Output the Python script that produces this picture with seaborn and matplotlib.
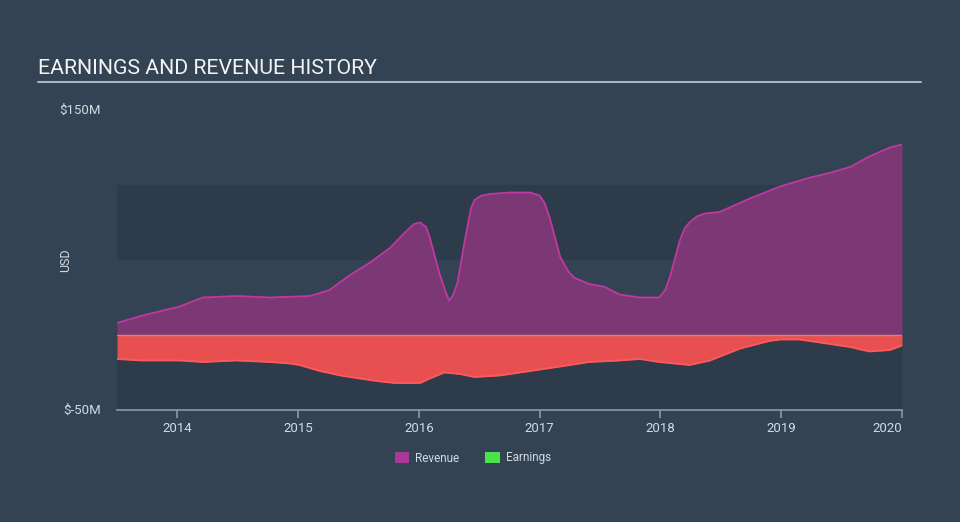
import matplotlib
matplotlib.use("Agg")
import matplotlib.pyplot as plt
from matplotlib.patches import Patch
import seaborn as sns
import pandas as pd

# ---- data (USD millions, decimal years) ----
rev_years = [2013.50, 2013.71, 2014.02, 2014.21, 2014.49, 2014.77, 2015.10, 2015.26,
             2015.43, 2015.59, 2015.76, 2015.88, 2015.96, 2016.01, 2016.06, 2016.09,
             2016.17, 2016.22, 2016.25, 2016.28, 2016.32, 2016.38, 2016.43, 2016.46,
             2016.52, 2016.59, 2016.75, 2016.92, 2017.00, 2017.04, 2017.08, 2017.17,
             2017.24, 2017.29, 2017.41, 2017.54, 2017.66, 2017.83, 2017.99, 2018.04,
             2018.08, 2018.16, 2018.20, 2018.24, 2018.30, 2018.37, 2018.49, 2018.74,
             2018.99, 2019.24, 2019.40, 2019.57, 2019.73, 2019.90, 2020.00]
revenue = [8, 13, 19, 25, 26, 25, 26, 30,
           40, 48, 58, 68, 74, 75, 72, 65,
           41, 29, 23, 26, 35, 63, 84, 90,
           93, 94, 95, 95, 93, 88, 79, 52,
           42, 38, 34, 32, 27, 25, 25, 30,
           39, 63, 71, 75, 79, 81, 82, 91,
           99, 105, 108, 112, 119, 125, 127]

earn_years = [2013.50, 2013.71, 2014.02, 2014.21, 2014.49, 2014.77, 2014.93, 2015.01,
              2015.18, 2015.35, 2015.51, 2015.68, 2015.80, 2016.01, 2016.09, 2016.21,
              2016.34, 2016.46, 2016.67, 2016.92, 2017.17, 2017.41, 2017.66, 2017.83,
              2017.99, 2018.24, 2018.41, 2018.66, 2018.90, 2018.99, 2019.15, 2019.32,
              2019.57, 2019.73, 2019.90, 2020.00]
earnings = [-16, -17, -17, -18, -17, -18, -19, -20,
            -24, -27, -29, -31, -32, -32, -29, -25,
            -26, -28, -27, -24, -21, -18, -17, -16,
            -18, -20, -17, -9, -4, -3, -3, -5,
            -8, -11, -10, -7]

x_ticks = [2014, 2015, 2016, 2017, 2018, 2019, 2020]
y_labels = ["$150M", "$-50M"]
y_label_vals = [150, -50]
series_names = ["Revenue", "Earnings"]

rev_df = pd.DataFrame({"year": rev_years, "value": revenue})
earn_df = pd.DataFrame({"year": earn_years, "value": earnings})

# ---- style ----
BG = "#334354"
BAND = "#2d3b4b"
REV_FILL = "#7b3875"
REV_LINE = "#c0399f"
EARN_FILL = "#e84f51"
EARN_LINE = "#ff5a5a"
TXT = "#d5dae0"
AXIS = "#8d99a8"

sns.set_theme(style="white")
plt.rcParams["font.family"] = ["Roboto", "DejaVu Sans"]

fig = plt.figure(figsize=(9.6, 5.22), dpi=100, facecolor=BG)
ax = fig.add_axes([117 / 960, 112 / 522, 785 / 960, 300 / 522])
ax.set_facecolor(BG)

ax.set_xlim(2013.5, 2020.0)
ax.set_ylim(-50, 150)

# background bands
ax.axhspan(50, 100, color=BAND, lw=0, zorder=0)
ax.axhspan(-50, 0, color=BAND, lw=0, zorder=0)

# fills
ax.fill_between(rev_df["year"], 0, rev_df["value"], color=REV_FILL, lw=0, zorder=1)
ax.fill_between(earn_df["year"], 0, earn_df["value"], color=EARN_FILL, lw=0, zorder=1)

sns.lineplot(data=rev_df, x="year", y="value", ax=ax, color=REV_LINE, lw=1.3, zorder=3)
sns.lineplot(data=earn_df, x="year", y="value", ax=ax, color=EARN_LINE, lw=1.3, zorder=3)
ax.axhline(0, color="#c98c6c", lw=1.0, zorder=4)

# axes styling
for s in ["top", "right", "left"]:
    ax.spines[s].set_visible(False)
ax.spines["bottom"].set_color(AXIS)
ax.spines["bottom"].set_linewidth(1.2)
ax.set_yticks([])
ax.set_xticks(x_ticks)
ax.set_xticklabels([str(t) for t in x_ticks])
ax.tick_params(axis="x", colors=AXIS, length=6, width=1.2, direction="out", pad=3,
               labelcolor=TXT, labelsize=9.5, bottom=True)
labels = ax.get_xticklabels()
labels[-1].set_horizontalalignment("right")
ax.set_xlabel("")
ax.set_ylabel("")

# y labels as text
for lab, v in zip(y_labels, y_label_vals):
    ypix = 112 + (v + 50) / 200 * 300
    fig.text(101 / 960, ypix / 522, lab, ha="right", va="center", color=TXT, fontsize=9.5)
fig.text(66 / 960, 1 - 260 / 522, "USD", rotation=90, ha="center", va="center",
         color=TXT, fontsize=9)

# title and rule
fig.text(38 / 960, 1 - 69 / 522, "EARNINGS AND REVENUE HISTORY", ha="left", va="center",
         color="#f2f4f6", fontsize=15.3)
fig.add_artist(plt.Line2D([38 / 960, 921 / 960], [1 - 82 / 522, 1 - 82 / 522],
                          color="#a9b3bd", lw=1.5))

# legend
handles = [Patch(facecolor="#a9389a", edgecolor="none"),
           Patch(facecolor="#4ce24c", edgecolor="none")]
fig.legend(handles, series_names, loc="center", bbox_to_anchor=(473 / 960, 1 - 458 / 522),
           ncol=2, frameon=False, fontsize=8.5, labelcolor=TXT, handlelength=1.2,
           handleheight=1.0, columnspacing=2.2, handletextpad=0.5)

fig.savefig("out.png", dpi=100, facecolor=BG)
